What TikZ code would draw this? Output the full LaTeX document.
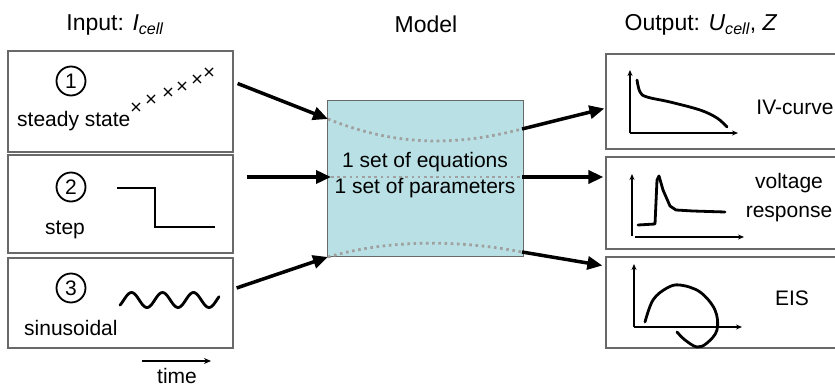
\documentclass[tikz,border=0pt]{standalone}
\usepackage{fontspec}
\setmainfont{Liberation Sans}
\usetikzlibrary{arrows.meta}

\definecolor{modelfill}{RGB}{185,225,229}
\definecolor{boxline}{RGB}{105,105,105}
\definecolor{dotline}{RGB}{160,160,160}

\begin{document}
\begin{tikzpicture}[
		x=1pt, y=-1pt,
		font=\fontsize{21}{26}\selectfont,
		title/.style={font=\fontsize{23}{27}\selectfont},
		inbox/.style={draw=boxline, line width=1.2pt, minimum width=225pt, inner sep=0pt},
		outbox/.style={draw=boxline, line width=1.2pt, minimum width=234pt, inner sep=0pt},
		model/.style={draw=boxline, line width=1pt, fill=modelfill, minimum width=196pt, minimum height=156pt, inner sep=0pt},
		num/.style={circle, draw=black, line width=1.8pt, inner sep=0pt, minimum size=29pt},
		arrow/.style={line width=3.5pt, -{Triangle[length=15pt, width=13pt]}},
		axis/.style={line width=1.2pt, -{Stealth[length=6pt, width=5pt]}},
		sketch/.style={line width=2.8pt, line cap=round, line join=round},
		dots/.style={dotline, line width=2.8pt, dash pattern=on 2.6pt off 3.6pt}
		]
		\clip (0,0) rectangle (835,387);
		
		% titles
		\node (tin) at (115,25) [title] {Input: \textit{I\textsubscript{cell}}};
		\node (tmodel) at (426,24) [title] {Model};
		\node (tout) at (701,25) [title] {Output: \textit{U\textsubscript{cell}}, \textit{Z}};
		
		% input boxes
		\node (in1) at (120.5,101.5) [inbox, minimum height=101pt] {};
		\node (in2) at (120.5,204) [inbox, minimum height=98pt] {};
		\node (in3) at (120.5,303) [inbox, minimum height=90pt] {};
		
		\node (n1) at (71,81) [num] {1};
		\node (n2) at (71,187) [num] {2};
		\node (n3) at (71,288) [num] {3};
		\node (steady) at (17,127) [anchor=base west, inner sep=0pt] {steady state};
		\node (step) at (45,235) [anchor=base west, inner sep=0pt] {step};
		\node (sinus) at (24,335) [anchor=base west, inner sep=0pt] {sinusoidal};
		
		\foreach \cx/\cy in {136/107, 151/99, 168/92, 182/86, 197/79, 209/72}
			\draw [line width=1.2pt] (\cx-4,\cy-4) -- (\cx+4,\cy+4) (\cx-4,\cy+4) -- (\cx+4,\cy-4);
		\draw [line width=1.6pt] (117,188) -- (155,188) -- (155,227) -- (215,227);
		\draw [sketch] plot[domain=120:219, samples=80] (\x, {300 + 7.5*cos((\x-147)/31*360)});
		
		\node (time) at (177,383) [anchor=base, inner sep=0pt] {time};
		\coordinate (t0) at (142,361);
		\coordinate (t1) at (211,361);
		\draw [line width=1.5pt, -{Stealth[length=7pt, width=6pt]}] (t0) -- (t1);
		
		% model
		\node (model) at (425,179) [model] {};
		\coordinate (mtl) at (328,119);
		\coordinate (mtr) at (522,129);
		\coordinate (mml) at (331,177);
		\coordinate (mmr) at (522,177);
		\coordinate (mbl) at (328,257);
		\coordinate (mbr) at (522,252);
		\draw [dots] (mtl) .. controls (400,148) and (460,145) .. (mtr);
		\draw [dots] (mml) -- (mmr);
		\draw [dots] (mbl) .. controls (390,239) and (460,240) .. (mbr);
		\node (eqs) at (model.center) [yshift=4pt, align=center, inner sep=0pt, font=\fontsize{21}{26}\selectfont] {1 set of equations\\1 set of parameters};
		
		% output boxes
		\node (out1) at (723,101.5) [outbox, minimum height=95pt] {};
		\node (out2) at (723,203) [outbox, minimum height=92pt] {};
		\node (out3) at (723,302.5) [outbox, minimum height=91pt] {};
		
		\draw [axis] (630,133) -- (630,70);
		\draw [axis] (630,133) -- (738,133);
		\draw [sketch] plot[smooth, tension=0.6] coordinates {(637,80) (640,92) (647,97) (670,102) (700,110) (717,118) (727,127)};
		\node (iv) at (795,107) {IV-curve};
		
		\draw [axis] (632,236) -- (632,174);
		\draw [axis] (635,237) -- (744,237);
		\draw [sketch] (638,225) -- (655,224) -- (657,180) -- (659,176) -- (663,190) -- (670,206) -- (676,210) -- (693,211) -- (725,212);
		\node (vr) at (789,198) [align=center, font=\fontsize{21}{29}\selectfont] {voltage\\response};
		
		\draw [axis] (634,327) -- (634,264);
		\draw [axis] (634,327) -- (742,327);
		\draw [sketch] plot[smooth, tension=0.6] coordinates {(645,322) (653,300) (667,288) (680,285) (700,292) (715,310) (717,330) (707,343) (697,347) (685,340) (677,332)};
		\node (eis) at (792,298) {EIS};
		
		% connectors
		\draw [arrow] ([shift={(4,-18)}]in1.east) -- (mtl);
		\draw [arrow] ([shift={(13,-27)}]in2.east) -- (mml);
		\draw [arrow] ([shift={(3,-15)}]in3.east) -- (mbl);
		\draw [arrow] (mtr) -- ([shift={(-1,7)}]out1.west);
		\draw [arrow] (mmr) -- ([shift={(-2,-26)}]out2.west);
		\draw [arrow] (mbr) -- ([shift={(-3,-37)}]out3.west);
	\end{tikzpicture}
\end{document}
